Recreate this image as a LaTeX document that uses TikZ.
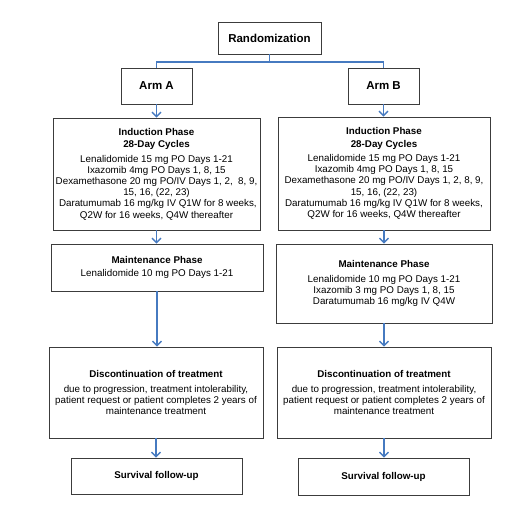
\documentclass[tikz,border=0pt]{standalone}
\usepackage{fontspec}
\setmainfont{Liberation Sans}
\usetikzlibrary{arrows.meta,shadows,calc}
\definecolor{conblue}{RGB}{70,122,192}
\definecolor{boxline}{RGB}{60,60,60}
\tikzset{
  box/.style={draw=boxline, line width=0.95pt, fill=white, rectangle, align=center,
    inner xsep=1pt, inner ysep=2pt, font=\fontsize{9.8}{11.2}\selectfont,
    drop shadow={shadow xshift=1.2pt, shadow yshift=-1.2pt, opacity=0.3, fill=black}},
  bigbox/.style={box, font=\fontsize{11.5}{13}\selectfont\bfseries},
  conn/.style={draw=conblue, line width=1.4pt},
  arr/.style={conn, -{Straight Barb[length=4.5pt,width=9pt,line width=1.4pt]}}
}
\newcommand{\ttl}[1]{{\fontsize{9.8}{13}\selectfont\bfseries #1}}
\begin{document}
\begin{tikzpicture}[x=1pt,y=-1pt]
\useasboundingbox (0,0) rectangle (520,514);

\node[bigbox, minimum width=103pt, minimum height=32pt] (rand) at (269.5,38) {Randomization};
\node[bigbox, minimum width=71pt, minimum height=36pt] (armA) at (156.5,86) {Arm A};
\node[bigbox, minimum width=71pt, minimum height=36pt] (armB) at (383.5,86) {Arm B};

\node[box, minimum width=207pt, minimum height=112pt] (indA) at (156.5,174) {%
\ttl{Induction Phase}\\[1.5pt]\ttl{28-Day Cycles}\\[3pt]
Lenalidomide 15 mg PO Days 1-21\\
Ixazomib 4mg PO Days 1, 8, 15\\
Dexamethasone 20 mg PO/IV Days 1, 2,\ \ 8, 9,\\
15, 16, (22, 23)\\
\ Daratumumab 16 mg/kg IV Q1W for 8 weeks,\\
Q2W for 16 weeks, Q4W thereafter};

\node[box, minimum width=212pt, minimum height=113pt] (indB) at (384,173.5) {%
\ttl{Induction Phase}\\[1.5pt]\ttl{28-Day Cycles}\\[3pt]
Lenalidomide 15 mg PO Days 1-21\\
Ixazomib 4mg PO Days 1, 8, 15\\
Dexamethasone 20 mg PO/IV Days 1, 2, 8, 9,\\
15, 16, (22, 23)\\
Daratumumab 16 mg/kg IV Q1W for 8 weeks,\\
Q2W for 16 weeks, Q4W thereafter};

\node[box, minimum width=212pt, minimum height=47pt] (mainA) at (157,267.5) {%
\ttl{Maintenance Phase}\\[1pt]
Lenalidomide 10 mg PO Days 1-21};

\node[box, minimum width=216pt, minimum height=79pt] (mainB) at (384,283.5) {%
\ttl{Maintenance Phase}\\[4pt]
Lenalidomide 10 mg PO Days 1-21\\
Ixazomib 3 mg PO Days 1, 8, 15\\
Daratumumab 16 mg/kg IV Q4W};

\node[box, minimum width=214pt, minimum height=91pt] (discA) at (156,392.5) {%
\ttl{Discontinuation of treatment}\\[4pt]
due to progression, treatment intolerability,\\
patient request or patient completes 2 years of\\
maintenance treatment};

\node[box, minimum width=214pt, minimum height=91pt] (discB) at (384,392.5) {%
\ttl{Discontinuation of treatment}\\[4pt]
due to progression, treatment intolerability,\\
patient request or patient completes 2 years of\\
maintenance treatment};

\node[box, minimum width=171pt, minimum height=36pt] (survA) at (156.5,476) {\ttl{Survival follow-up}};
\node[box, minimum width=171pt, minimum height=37pt] (survB) at (383.5,476.5) {\ttl{Survival follow-up}};

% connectors
\coordinate (j) at (269.5,62);
\draw[conn] (rand.south) -- (j);
\draw[conn] (j) -| (armA.north);
\draw[conn] (j) -| (armB.north);

\draw[arr] (armA.south) -- (armA.south |- indA.north);
\draw[arr] (armB.south) -- (armB.south |- indB.north);
\draw[arr] (indA.south) -- (indA.south |- mainA.north);
\draw[arr] (indB.south) -- (indB.south |- mainB.north);
\draw[arr] (mainA.south) -- (mainA.south |- discA.north);
\draw[arr] (mainB.south) -- (mainB.south |- discB.north);
\draw[arr] (discA.south) -- (discA.south |- survA.north);
\draw[arr] (discB.south) -- (discB.south |- survB.north);
\end{tikzpicture}
\end{document}
